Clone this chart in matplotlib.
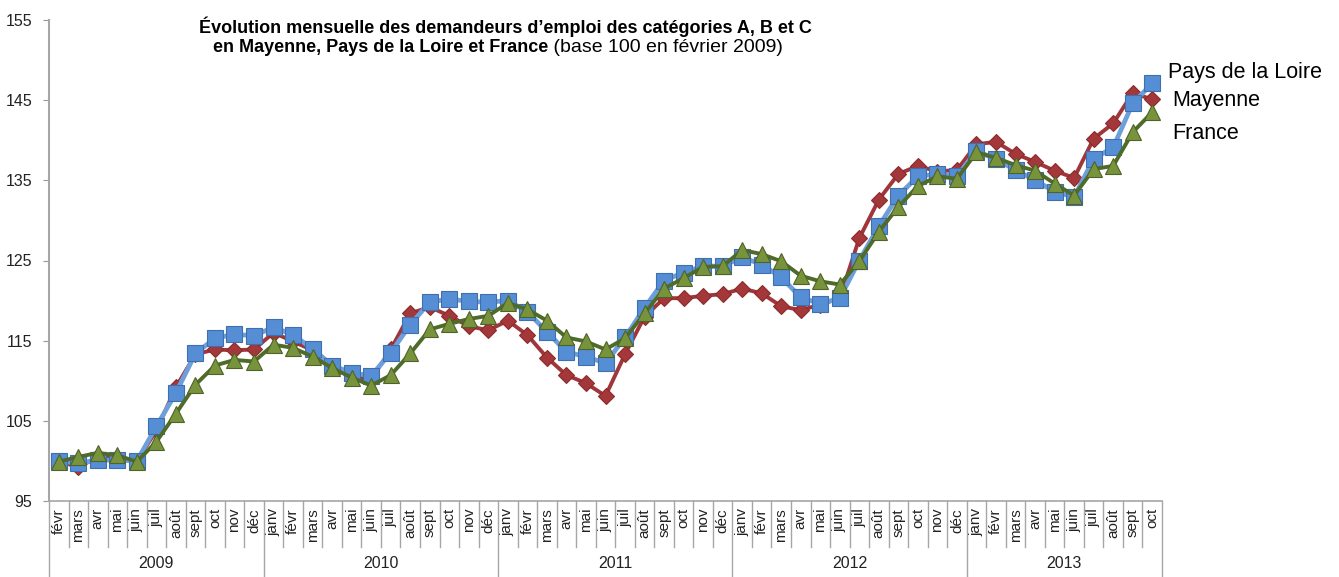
import numpy as np
import matplotlib
matplotlib.use("Agg")
from matplotlib import pyplot as plt
from matplotlib import transforms

plt.rcParams['font.family'] = ['Liberation Sans', 'DejaVu Sans']

# data, base 100 in Feb 2009, monthly from févr 2009 to oct 2013
month_names = ["janv", "févr", "mars", "avr", "mai", "juin", "juil",
               "août", "sept", "oct", "nov", "déc"]
years = ["2009", "2010", "2011", "2012", "2013"]
months_per_year = [11, 12, 12, 12, 10]

pays_de_la_loire = [100.0, 99.7, 100.1, 100.1, 100.0, 104.3, 108.5, 113.4, 115.3, 115.8, 115.6,
                    116.7, 115.7, 114.0, 111.9, 111.0, 110.6, 113.5, 117.0, 119.8, 120.2, 119.9, 119.8,
                    120.0, 118.6, 116.1, 113.6, 113.0, 112.2, 115.4, 119.1, 122.5, 123.5, 124.3, 124.3,
                    125.4, 124.5, 122.9, 120.4, 119.6, 120.3, 125.0, 129.3, 133.1, 135.5, 135.8, 135.5,
                    138.7, 137.6, 136.3, 135.0, 133.6, 132.9, 137.7, 139.1, 144.6, 147.1]
mayenne = [100.0, 99.2, 100.5, 100.4, 100.0, 103.8, 109.2, 113.3, 113.9, 113.8, 113.9,
           116.0, 114.9, 113.8, 111.6, 110.5, 110.2, 113.9, 118.4, 119.2, 118.1, 116.8, 116.3,
           117.5, 115.7, 112.9, 110.7, 109.7, 108.1, 113.3, 118.0, 120.3, 120.3, 120.6, 120.8,
           121.5, 120.9, 119.3, 118.8, 119.5, 120.3, 127.8, 132.6, 135.8, 136.8, 136.1, 136.3,
           139.5, 139.8, 138.3, 137.3, 136.2, 135.3, 140.2, 142.1, 145.9, 145.1]
france = [99.9, 100.5, 101.0, 100.7, 99.9, 102.4, 105.9, 109.5, 111.9, 112.6, 112.4,
          114.5, 114.1, 113.0, 111.6, 110.4, 109.4, 110.7, 113.4, 116.4, 117.1, 117.7, 118.1,
          119.7, 118.9, 117.5, 115.4, 114.9, 113.9, 115.3, 118.4, 121.5, 122.8, 124.2, 124.3,
          126.3, 125.8, 124.9, 123.1, 122.4, 122.0, 124.9, 128.6, 131.7, 134.3, 135.5, 135.2,
          138.5, 137.8, 136.9, 136.2, 134.6, 133.1, 136.4, 136.8, 141.0, 143.5]

# month tick labels
labels = []
start = 1
for n in months_per_year:
    labels += [month_names[(start + k) % 12] for k in range(n)]
    start = 0
x = np.arange(len(labels))

fig = plt.figure(figsize=(13.39, 5.77), dpi=100)
ax = fig.add_axes([49 / 1339, 76 / 577, 1113 / 1339, 481 / 577])

ax.plot(x, mayenne, color="#A0363A", lw=2.8, marker="D", ms=8.5,
        mfc="#A33739", mec="#8A2C2E", mew=0.8, zorder=3)
ax.plot(x, pays_de_la_loire, color="#6E9FDB", lw=3.4, marker="s", ms=11,
        mfc="#558ED5", mec="#3F6FAE", mew=0.8, zorder=4)
ax.plot(x, france, color="#4F6B2A", lw=2.8, marker="^", ms=11.5,
        mfc="#77933C", mec="#4F6228", mew=0.8, zorder=5)

ax.set_xlim(-0.5, len(labels) - 0.5)
ax.set_ylim(95, 155)
ax.set_yticks(np.arange(95, 156, 10))
ax.tick_params(axis="y", direction="out", length=4, color="#999999",
               labelsize=11.5, labelcolor="#222222", pad=8)

for s in ["top", "right", "bottom"]:
    ax.spines[s].set_visible(False)
ax.spines["left"].set_color("#a6a6a6")
ax.spines["left"].set_linewidth(1.5)

ax.set_xticks(x)
ax.set_xticklabels(labels, rotation=90, fontsize=11, color="#222222")
ax.tick_params(axis="x", length=0, pad=5)

# category axis boxes
trans = transforms.blended_transform_factory(ax.transData, ax.transAxes)
ax.plot([-0.5, len(labels) - 0.5], [0, 0], color="#a6a6a6", lw=1.2,
        transform=trans, clip_on=False)
bounds = np.cumsum([0] + months_per_year) - 0.5
for i in range(len(labels) + 1):
    xb = i - 0.5
    low = -0.165 if xb in bounds else -0.095
    ax.plot([xb, xb], [0, low], color="#a6a6a6", lw=1.0,
            transform=trans, clip_on=False)
for j, yr in enumerate(years):
    ax.text((bounds[j] + bounds[j + 1]) / 2, -0.13, yr, transform=trans,
            ha="center", va="center", fontsize=11.5, color="#222222")

# series labels at the right
ax.text(56.8, 148.4, "Pays de la Loire", fontsize=15.5, va="center", ha="left", clip_on=False)
ax.text(57.0, 144.9, "Mayenne", fontsize=15.5, va="center", ha="left", clip_on=False)
ax.text(57.0, 140.9, "France", fontsize=15.5, va="center", ha="left", clip_on=False)

# title
fig.text(505 / 1339, 1 - 27 / 577,
         "Évolution mensuelle des demandeurs d’emploi des catégories A, B et C",
         ha="center", va="center", fontsize=13, fontweight="bold")
fig.text(548 / 1339, 1 - 48 / 577, "en Mayenne, Pays de la Loire et France",
         ha="right", va="center", fontsize=13, fontweight="bold")
fig.text(548 / 1339, 1 - 48 / 577, " (base 100 en février 2009)",
         ha="left", va="center", fontsize=14)

fig.savefig("out.png", dpi=100)
